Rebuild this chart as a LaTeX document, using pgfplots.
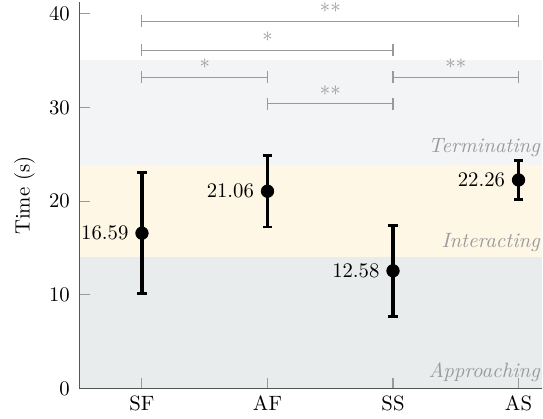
\documentclass[border={3.5pt 0pt 0pt 0pt}]{standalone}
\usepackage{pgfplots}
\pgfplotsset{compat=1.18}
\definecolor{bandA}{HTML}{E9ECED}
\definecolor{bandI}{HTML}{FFF7E6}
\definecolor{bandT}{HTML}{F3F4F6}
\definecolor{brk}{HTML}{9A9A9A}
\definecolor{axc}{HTML}{555555}
\newcommand{\bracket}[5]{%
  \draw[brk, line width=0.5pt] (axis cs:#1,#3) -- (axis cs:#2,#3);
  \draw[brk, line width=0.5pt] (axis cs:#1,#3-0.65) -- (axis cs:#1,#3+0.65);
  \draw[brk, line width=0.5pt] (axis cs:#2,#3-0.65) -- (axis cs:#2,#3+0.65);
  \node[text=brk, anchor=south, inner sep=1pt] at (axis cs:#4,#3) {#5};
}
\begin{document}
\begin{tikzpicture}
\begin{axis}[
  scale only axis,
  width=223.5pt, height=186.5pt,
  xmin=-0.5, xmax=3.19,
  ymin=0, ymax=41.2,
  axis lines*=left,
  axis line style={axc, line width=0.6pt},
  axis on top,
  xtick={0,1,2,3},
  xticklabels={SF,AF,SS,AS},
  ytick={0,10,20,30,40},
  tick style={brk, line width=0.5pt},
  major tick length=5pt,
  tick align=inside,
  yticklabel style={xshift=-1pt},
  ylabel={Time (s)},
  clip=false,
]
\fill[bandA] (axis cs:-0.5,0) rectangle (axis cs:3.19,14);
\fill[bandI] (axis cs:-0.5,14) rectangle (axis cs:3.19,23.9);
\fill[bandT] (axis cs:-0.5,23.9) rectangle (axis cs:3.19,35.1);
\node[anchor=base east, text=brk, font=\itshape, inner xsep=1pt] at (axis cs:3.19,1.2) {Approaching};
\node[anchor=base east, text=brk, font=\itshape, inner xsep=1pt] at (axis cs:3.19,15.1) {Interacting};
\node[anchor=base east, text=brk, font=\itshape, inner xsep=1pt] at (axis cs:3.19,25.2) {Terminating};
\bracket{0}{3}{39.2}{1.5}{**}
\bracket{0}{2}{36.1}{1}{*}
\bracket{0}{1}{33.2}{0.5}{*}
\bracket{2}{3}{33.2}{2.5}{**}
\bracket{1}{2}{30.4}{1.5}{**}
\addplot[
  only marks, mark=*, mark size=3pt, black,
  error bars/.cd, y dir=both, y explicit,
  error bar style={line width=1.6pt, black},
  error mark options={rotate=90, mark size=2.3pt, line width=1.2pt, black},
] coordinates {
  (0,16.59) +- (0,6.45)
  (1,21.06) +- (0,3.8)
  (2,12.58) +- (0,4.85)
  (3,22.26) +- (0,2.1)
};
\addplot[
  only marks, mark=none,
  nodes near coords={\pgfmathprintnumber[fixed,precision=2,fixed zerofill]{\pgfplotspointmeta}},
  point meta=y,
  every node near coord/.append style={anchor=east, xshift=-3pt, text=black},
] coordinates {(0,16.59) (1,21.06) (2,12.58) (3,22.26)};
\end{axis}
\end{tikzpicture}
\end{document}
